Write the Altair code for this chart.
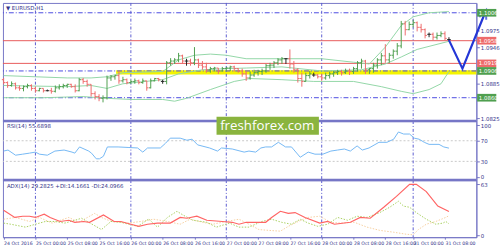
import altair as alt
import pandas as pd
import numpy as np

# ---------------- data ----------------
bar_open = [1.0891,1.0886,1.0881,1.0884,1.0877,1.0876,1.0879,1.0881,1.0876,1.0872,
            1.0876,1.0872,1.0872,1.0871,1.0877,1.0879,1.0881,1.0883,1.0879,1.0872,
            1.0891,1.0888,1.0883,1.0867,1.0862,1.0859,1.0860,1.0894,1.0896,1.0898,
            1.0889,1.0891,1.0886,1.0888,1.0889,1.0886,1.0889,1.0877,1.0889,1.0893,
            1.0888,1.0888,1.0920,1.0923,1.0925,1.0932,1.0923,1.0923,1.0920,1.0925,
            1.0916,1.0913,1.0908,1.0910,1.0911,1.0906,1.0910,1.0911,1.0913,1.0910,
            1.0906,1.0901,1.0894,1.0899,1.0903,1.0905,1.0906,1.0915,1.0916,1.0920,
            1.0925,1.0927,1.0927,1.0918,1.0908,1.0893,1.0888,1.0898,1.0899,1.0899,
            1.0896,1.0894,1.0898,1.0901,1.0903,1.0905,1.0903,1.0906,1.0905,1.0910,
            1.0920,1.0923,1.0908,1.0910,1.0916,1.0925,1.0932,1.0925,1.0933,1.0940,
            1.0949,1.0987,1.0977,1.0986,1.0989,1.0981,1.0977,1.0969,1.0969,1.0964,
            1.0967,1.0970,1.0960]
bar_high = [1.0894,1.0888,1.0888,1.0886,1.0881,1.0881,1.0884,1.0883,1.0879,1.0877,
            1.0876,1.0874,1.0877,1.0881,1.0883,1.0884,1.0884,1.0884,1.0883,1.0894,
            1.0894,1.0891,1.0883,1.0871,1.0866,1.0864,1.0898,1.0899,1.0899,1.0906,
            1.0896,1.0893,1.0891,1.0893,1.0891,1.0893,1.0889,1.0893,1.0894,1.0894,
            1.0891,1.0923,1.0928,1.0928,1.0937,1.0934,1.0927,1.0927,1.0947,1.0927,
            1.0923,1.0920,1.0913,1.0913,1.0911,1.0913,1.0913,1.0915,1.0915,1.0911,
            1.0910,1.0906,1.0905,1.0908,1.0908,1.0910,1.0918,1.0920,1.0923,1.0928,
            1.0930,1.0928,1.0943,1.0923,1.0911,1.0903,1.0903,1.0906,1.0903,1.0901,
            1.0901,1.0903,1.0905,1.0906,1.0908,1.0908,1.0910,1.0910,1.0913,1.0923,
            1.0927,1.0925,1.0911,1.0920,1.0928,1.0937,1.0952,1.0937,1.0943,1.0954,
            1.0992,1.0992,1.0991,1.0994,1.0991,1.0987,1.0979,1.0972,1.0972,1.0972,
            1.0974,1.0974,1.0964]
bar_low = [1.0883,1.0877,1.0879,1.0874,1.0872,1.0871,1.0876,1.0872,1.0869,1.0871,
           1.0869,1.0871,1.0867,1.0869,1.0874,1.0876,1.0877,1.0877,1.0869,1.0871,
           1.0884,1.0879,1.0862,1.0857,1.0854,1.0852,1.0857,1.0889,1.0891,1.0884,
           1.0886,1.0883,1.0884,1.0884,1.0883,1.0884,1.0872,1.0876,1.0888,1.0888,
           1.0884,1.0883,1.0915,1.0918,1.0921,1.0918,1.0915,1.0915,1.0916,1.0911,
           1.0908,1.0903,1.0903,1.0905,1.0901,1.0905,1.0906,1.0906,1.0905,1.0903,
           1.0896,1.0889,1.0891,1.0896,1.0898,1.0899,1.0903,1.0908,1.0911,1.0916,
           1.0918,1.0918,1.0910,1.0903,1.0886,1.0879,1.0888,1.0893,1.0896,1.0893,
           1.0889,1.0891,1.0893,1.0896,1.0899,1.0898,1.0901,1.0899,1.0901,1.0905,
           1.0910,1.0901,1.0901,1.0903,1.0910,1.0916,1.0920,1.0920,1.0927,1.0933,
           1.0945,1.0967,1.0976,1.0981,1.0974,1.0972,1.0962,1.0964,1.0959,1.0960,
           1.0964,1.0959,1.0957]
bar_close = [1.0886,1.0881,1.0884,1.0877,1.0876,1.0879,1.0881,1.0876,1.0872,1.0876,
             1.0872,1.0872,1.0871,1.0877,1.0879,1.0881,1.0883,1.0879,1.0872,1.0891,
             1.0888,1.0883,1.0867,1.0862,1.0859,1.0860,1.0894,1.0896,1.0898,1.0889,
             1.0891,1.0886,1.0888,1.0889,1.0886,1.0889,1.0877,1.0889,1.0893,1.0891,
             1.0888,1.0920,1.0923,1.0925,1.0932,1.0923,1.0923,1.0920,1.0925,1.0916,
             1.0913,1.0908,1.0910,1.0911,1.0906,1.0910,1.0911,1.0913,1.0910,1.0906,
             1.0901,1.0894,1.0899,1.0903,1.0905,1.0906,1.0915,1.0916,1.0920,1.0925,
             1.0927,1.0927,1.0918,1.0908,1.0893,1.0888,1.0898,1.0901,1.0899,1.0896,
             1.0894,1.0898,1.0901,1.0903,1.0905,1.0903,1.0906,1.0905,1.0910,1.0920,
             1.0923,1.0908,1.0910,1.0916,1.0925,1.0932,1.0925,1.0933,1.0940,1.0949,
             1.0987,1.0977,1.0986,1.0989,1.0981,1.0977,1.0967,1.0969,1.0964,1.0967,
             1.0970,1.0962,1.0960]

bb_upper_bar = [0,8,16,22,26,30,40,44,48,52,56,61,70,80,88,92,96,100,103,107,112]
bb_upper = [1.0898,1.0896,1.0894,1.0894,1.0896,1.0903,1.0905,1.0925,1.0933,1.0935,1.0933,
            1.0927,1.0927,1.0927,1.0921,1.0918,1.0947,1.0984,1.0999,1.1006,1.1008]
bb_mid_bar = [0,16,22,26,30,40,44,50,56,61,70,80,90,96,100,104,112]
bb_mid = [1.0881,1.0879,1.0881,1.0876,1.0884,1.0891,1.0901,1.0908,1.0910,1.0911,1.0913,
          1.0906,1.0908,1.0918,1.0930,1.0943,1.0957]
bb_lower_bar = [0,10,20,26,32,40,43,46,52,58,62,70,78,88,95,100,103,107,110,112]
bb_lower = [1.0860,1.0860,1.0862,1.0859,1.0857,1.0857,1.0854,1.0859,1.0874,1.0888,1.0893,
            1.0891,1.0888,1.0888,1.0879,1.0871,1.0867,1.0874,1.0884,1.0905]

rsi_bar = [0,1.1,3.0,4.8,6.5,8.0,9.0,11.0,12.9,15.2,17.2,17.9,19.1,21.4,22.1,23.3,24.1,25.1,
           26.1,28.8,31.3,33.7,35.0,36.2,39.4,40.7,41.9,44.4,46.1,47.4,48.8,51.8,53.8,54.8,
           57.5,60.5,61.7,63.4,64.7,65.9,67.4,69.1,70.9,72.4,74.6,76.6,78.3,80.3,82.3,84.0,
           85.7,87.2,88.9,90.2,91.9,94.4,96.4,98.1,99.3,100.6,102.1,103.3,104.5,105.8,107.0,
           109.5,110.7,112.0]
rsi_val = [50,52,42,44,46,48,44,42,50,52,48,46,58,50,46,35,35,40,
           58,58,57,56,48,56,56,65,75,75,71,73,62,56,50,56,
           54,48,50,48,56,58,58,67,58,58,38,48,44,44,50,52,
           54,50,60,52,56,67,67,73,87,83,83,75,73,67,63,
           63,58,55.7]

adx_bar = [0,2.8,4.8,6.5,8.0,10.2,11.7,14.2,16.4,17.9,20.1,21.6,25.1,27.8,29.5,32.0,34.0,36.2,
           38.7,41.9,44.4,46.1,48.6,51.1,55.0,57.5,59.2,61.0,63.4,65.9,67.4,69.6,71.6,73.3,
           75.8,79.5,81.5,83.2,87.2,89.7,92.2,95.6,98.8,102.1,103.8,106.3,109.2,112.0]
adx_val = [31,22,23.5,23.5,22,26,22,17,18.5,16,17,16,25,17,17,13.6,11,13.6,
           15,15,22,21,23.5,18.5,17,16,13.6,16,16,16,22,29.6,27,28,
           22,15,17,13.6,16,22,21,34.6,48,63,63,54,36,29.3]
pdi_bar = [0,1.8,5.5,8.0,10.5,12.9,15.4,17.9,19.6,21.4,24.6,27.0,29.5,33.7,36.5,38.7,41.2,
           43.6,45.1,47.6,51.1,53.5,56.8,59.2,61.7,64.9,67.4,69.9,72.4,74.6,76.6,79.0,81.5,
           84.0,86.5,88.9,91.4,94.6,97.1,99.3,100.6,102.1,103.8,106.3,108.7,110.5,111.2,112.0]
pdi_val = [15,13.6,10,13.6,17,17,15,18.5,21,16,7,17,16,11,20,10,22,
           29.6,25,18.5,16,10,15,10,10,17,19.8,16,13.6,19.8,15,11,13.6,
           22,18.5,23.5,22,28,34.6,42,36,34.6,28,19.8,13.6,15,17,14.2]
mdi_bar = [0,3.0,6.5,9.0,12.2,16.4,18.9,22.9,24.6,27.1,31.3,34.5,37.7,41.2,44.4,46.9,50.1,
           52.6,56.0,59.2,61.7,64.2,66.7,69.6,71.6,74.1,76.6,79.5,82.3,84.7,88.2,91.4,94.6,
           98.1,101.3,103.0,104.3,106.3,108.7,111.2,112.0]
mdi_val = [19.8,22,17,22,15,22,16,27,22,17,15,17,19.8,17,13.6,19.8,16,
           13.6,17,19.8,13.6,7,6,5,11,17,22,23.5,16,15,16,10,6,
           3.7,1.2,0.5,7,13.6,17,22,24.1]

level_blue = [1.1006, 1.0906, 1.0860]
level_red = [1.0958, 1.0919]
support_zone = [1.0900, 1.0907]
support_start_bar = 28.3
box_price = [1.1006, 1.0958, 1.0919, 1.0906, 1.0860]
box_text = ["1.1006", "1.0958", "1.0919", "1.0906", "1.0860"]
box_kind = ["blue", "red", "red", "blue", "blue"]
axis_price = [1.0975, 1.0946, 1.0885, 1.0825]

arrow_bar = [112, 115.4, 120.9]
arrow_price = [1.0959, 1.0910, 1.1003]

label_bars = [0, 8, 16, 24, 32, 40, 48, 56, 64, 72, 80, 88, 96, 103, 111]
time_labels = ["24 Oct 2016", "25 Oct 00:00", "25 Oct 08:00", "25 Oct 16:00",
               "26 Oct 00:00", "26 Oct 08:00", "26 Oct 16:00", "27 Oct 00:00",
               "27 Oct 08:00", "27 Oct 16:00", "28 Oct 00:00", "28 Oct 08:00",
               "28 Oct 16:00", "31 Oct 00:00", "31 Oct 08:00"]
day_bars = [8, 32, 56, 80, 103]

# ---------------- styling ----------------
W = 481
H_MAIN, H_RSI, H_ADX = 120, 60, 58
XDOM = [-0.17, 118.9]
PURPLE = "#7676c6"
NAVY = "#34348a"
FONT = "DejaVu Sans"
FS = 5.5
GREEN = "#4f9f4f"
RED = "#ee6b6b"
BB = "#92d6a6"

xs = alt.Scale(domain=XDOM, nice=False, zero=False)
ys_main = alt.Scale(domain=[1.08199, 1.10229], nice=False, zero=False)
ys_rsi = alt.Scale(domain=[-6.3, 108.2], nice=False, zero=False)
ys_adx = alt.Scale(domain=[-2.44, 68.2], nice=False, zero=False)


def raxis(values, fmt=None):
    kw = dict(orient="right", values=values, labelFontSize=FS, labelColor=NAVY,
              labelFont=FONT, tickColor=PURPLE, domainColor=PURPLE, tickSize=3,
              labelPadding=1, grid=False, title=None)
    if fmt:
        kw["format"] = fmt
    return alt.Axis(**kw)


main_axis = raxis(axis_price, ".4f")
rsi_axis = raxis([0, 30, 70, 100])
adx_axis = raxis([0, 63])


def XM(field):
    return alt.X(field, type="quantitative", scale=xs, axis=None)


def YM(field):
    return alt.Y(field, type="quantitative", scale=ys_main, axis=main_axis)


# ---------------- main panel ----------------
n = len(bar_close)
candles = pd.DataFrame({"i": np.arange(n), "o": bar_open, "h": bar_high,
                        "l": bar_low, "c": bar_close})
candles["dir"] = np.where(candles.c > candles.o, "up",
                          np.where(candles.c < candles.o, "down", "flat"))
ccolor = alt.Color("dir:N", scale=alt.Scale(domain=["up", "down", "flat"],
                                            range=[GREEN, RED, "#222222"]), legend=None)

zone = pd.DataFrame({"a": [support_start_bar], "b": [XDOM[1]],
                     "p1": [support_zone[0]], "p2": [support_zone[1]]})
zone_l = alt.Chart(zone).mark_rect(color="#f4f400").encode(
    x=XM("a"), x2="b", y=YM("p1"), y2="p2")

blue_l = alt.Chart(pd.DataFrame({"p": level_blue})).mark_rule(
    color="#4a4ae0", strokeDash=[5, 2, 1, 2], strokeWidth=1).encode(y=YM("p"))
red_l = alt.Chart(pd.DataFrame({"p": level_red})).mark_rule(
    color="#e85a5a", strokeWidth=1).encode(y=YM("p"))

days_df = pd.DataFrame({"i": day_bars})
days_main = alt.Chart(days_df).mark_rule(
    color="#5b5bd0", strokeDash=[3, 2, 1, 2], strokeWidth=1).encode(x=XM("i"))

bb_layers = []
for bars, vals in [(bb_upper_bar, bb_upper), (bb_mid_bar, bb_mid), (bb_lower_bar, bb_lower)]:
    bb_layers.append(alt.Chart(pd.DataFrame({"i": bars, "p": vals})).mark_line(
        color=BB, strokeWidth=1).encode(x=XM("i"), y=YM("p")))

wick = alt.Chart(candles).mark_rule(strokeWidth=1).encode(
    x=XM("i"), y=YM("l"), y2="h", color=ccolor)
otick = alt.Chart(candles).transform_calculate(a="datum.i - 0.45").mark_rule(
    strokeWidth=1).encode(x=XM("a:Q"), x2="i:Q", y=YM("o"), color=ccolor)
ctick = alt.Chart(candles).transform_calculate(b="datum.i + 0.45").mark_rule(
    strokeWidth=1).encode(x=XM("i:Q"), x2="b:Q", y=YM("c"), color=ccolor)

arrow_df = pd.DataFrame({"i": arrow_bar, "p": arrow_price, "k": [0, 1, 2]})
arrow = alt.Chart(arrow_df).mark_line(color="#2436d6", strokeWidth=2.2).encode(
    x=XM("i"), y=YM("p"), order="k:Q")
head = alt.Chart(arrow_df.iloc[[2]]).mark_point(
    shape="M-0.8,0.9L0,-1L0.8,0.9", filled=False, size=90, angle=22,
    color="#2436d6", strokeWidth=2).encode(x=XM("i"), y=YM("p"))

boxes = pd.DataFrame({"p": box_price, "t": box_text, "k": box_kind})
box_rect = alt.Chart(boxes).mark_point(
    shape="M-1,-0.4L1,-0.4L1,0.4L-1,0.4Z", filled=True, size=380, opacity=1,
    strokeWidth=0).encode(
    x=alt.value(W + 10.5), y=YM("p"),
    color=alt.Color("k:N", scale=alt.Scale(domain=["blue", "red"],
                                           range=["#1414d0", "#ff1010"]), legend=None))
box_txt = alt.Chart(boxes).mark_text(
    align="left", baseline="middle", fontSize=FS, font=FONT, color="white").encode(
    x=alt.value(W + 2.5), y=YM("p"), text="t:N")

sym_txt = alt.Chart(pd.DataFrame({"t": ["\u25bc EURUSD,H1"]})).mark_text(
    align="left", baseline="middle", fontSize=FS, font=FONT, color=NAVY).encode(
    x=alt.value(3), y=alt.value(5), text="t:N")

main = alt.layer(zone_l, blue_l, red_l, days_main, *bb_layers, wick, otick, ctick,
                 arrow, head, box_rect, box_txt, sym_txt).properties(width=W, height=H_MAIN)

# ---------------- RSI panel ----------------
def XR(field):
    return alt.X(field, type="quantitative", scale=xs, axis=None)


def YR(field):
    return alt.Y(field, type="quantitative", scale=ys_rsi, axis=rsi_axis)


sep = alt.Chart(pd.DataFrame({"d": [0]})).mark_rule(color=PURPLE, strokeWidth=2.5).encode(
    x=alt.value(0), x2=alt.value(W), y=alt.value(0))
rsi_lv = alt.Chart(pd.DataFrame({"v": [30, 70]})).mark_rule(
    color="#c8c8c8", strokeDash=[2, 2], strokeWidth=1).encode(y=YR("v"))
days_rsi = alt.Chart(days_df).mark_rule(
    color="#5b5bd0", strokeDash=[3, 2, 1, 2], strokeWidth=1).encode(x=XR("i"))
rsi_line = alt.Chart(pd.DataFrame({"i": rsi_bar, "v": rsi_val})).mark_line(
    color="#74b8f4", strokeWidth=1).encode(x=XR("i"), y=YR("v"))
rsi_title = alt.Chart(pd.DataFrame({"t": ["RSI(14) 55.6898"]})).mark_text(
    align="left", baseline="middle", fontSize=FS, font=FONT, color=NAVY).encode(
    x=alt.value(4), y=alt.value(5), text="t:N")
wm_rect = alt.Chart(pd.DataFrame({"d": [0]})).mark_rect(color="#8ab43e").encode(
    x=alt.value(217), x2=alt.value(321), y=alt.value(-4.3), y2=alt.value(14))
wm_txt = alt.Chart(pd.DataFrame({"t": ["freshforex.com"]})).mark_text(
    align="center", baseline="alphabetic", fontSize=13.5, font="Open Sans",
    color="white").encode(x=alt.value(268.5), y=alt.value(9.5), text="t:N")

rsi = alt.layer(rsi_lv, days_rsi, rsi_line, sep, rsi_title, wm_rect, wm_txt).properties(
    width=W, height=H_RSI)

# ---------------- ADX panel ----------------
label_expr = "[" + ",".join("'%s'" % s for s in time_labels) + "][indexof([" + \
    ",".join(str(b) for b in label_bars) + "], datum.value)]"
x_axis = alt.Axis(values=label_bars, labelExpr=label_expr, labelAlign="left",
                  labelFontSize=4.7, labelColor=NAVY, labelFont=FONT, tickSize=2,
                  tickColor=PURPLE, domainColor=PURPLE, labelPadding=1, grid=False,
                  title=None, labelOverlap=False, labelFlush=False, labelBound=False)


def XA(field):
    return alt.X(field, type="quantitative", scale=xs, axis=x_axis)


def YA(field):
    return alt.Y(field, type="quantitative", scale=ys_adx, axis=adx_axis)


days_adx = alt.Chart(days_df).mark_rule(
    color="#5b5bd0", strokeDash=[3, 2, 1, 2], strokeWidth=1).encode(x=XA("i"))
mdi_line = alt.Chart(pd.DataFrame({"i": mdi_bar, "v": mdi_val})).mark_line(
    color="#f6cfa0", strokeWidth=1, strokeDash=[1.5, 1.5]).encode(x=XA("i"), y=YA("v"))
pdi_line = alt.Chart(pd.DataFrame({"i": pdi_bar, "v": pdi_val})).mark_line(
    color="#a9d062", strokeWidth=1, strokeDash=[1.5, 1.5]).encode(x=XA("i"), y=YA("v"))
adx_line = alt.Chart(pd.DataFrame({"i": adx_bar, "v": adx_val})).mark_line(
    color="#ff6464", strokeWidth=1.2).encode(x=XA("i"), y=YA("v"))
adx_title = alt.Chart(pd.DataFrame({"t": ["ADX(14) 29.2825 +DI:14.1661 -DI:24.0966"]})).mark_text(
    align="left", baseline="middle", fontSize=FS, font=FONT, color=NAVY).encode(
    x=alt.value(4), y=alt.value(6), text="t:N")

adx = alt.layer(days_adx, mdi_line, pdi_line, adx_line, sep, adx_title).properties(
    width=W, height=H_ADX)

chart = alt.vconcat(main, rsi, adx, spacing=0, bounds="flush").properties(
    padding={"left": 0, "top": 0, "right": 0, "bottom": 0}
).configure(background="white").configure_view(stroke=PURPLE, strokeWidth=1)

chart.save("out.html", embed_options={"renderer": "svg", "actions": False})
